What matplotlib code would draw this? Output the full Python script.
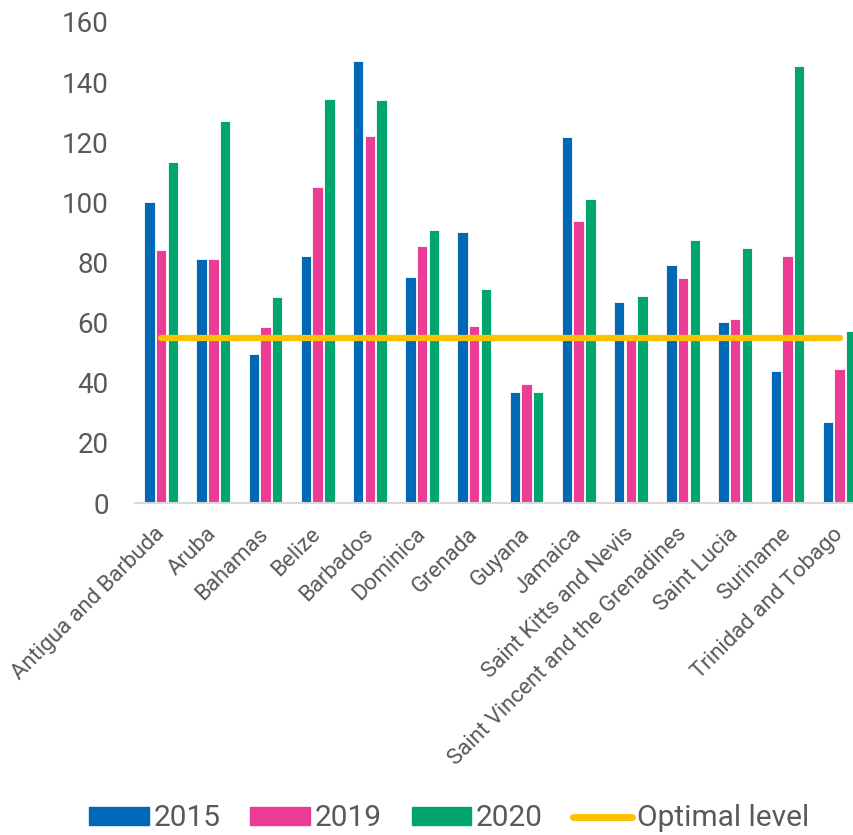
import numpy as np
import matplotlib
matplotlib.use('Agg')
import matplotlib.pyplot as plt
from matplotlib.lines import Line2D
from matplotlib.patches import Patch

countries = ['Antigua and Barbuda', 'Aruba', 'Bahamas', 'Belize', 'Barbados',
             'Dominica', 'Grenada', 'Guyana', 'Jamaica', 'Saint Kitts and Nevis',
             'Saint Vincent and the Grenadines', 'Saint Lucia', 'Suriname',
             'Trinidad and Tobago']
v2015 = [100.2, 81.0, 49.4, 82.3, 146.9, 75.2, 90.0, 37.0, 121.9, 66.7, 79.2, 60.3, 43.9, 26.8]
v2019 = [84.3, 81.0, 58.6, 105.0, 122.1, 85.6, 58.9, 39.7, 93.8, 55.9, 75.0, 61.2, 82.1, 44.7]
v2020 = [113.3, 127.0, 68.6, 134.4, 134.1, 90.7, 71.3, 36.9, 101.2, 68.9, 87.6, 84.9, 145.2, 57.3]
optimal = 55

series = [('2015', v2015, '#0068B5'), ('2019', v2019, '#EC3D96'), ('2020', v2020, '#00A66E')]
line_color = '#FFC000'
text_color = '#595959'

plt.rcParams['font.family'] = ['Roboto', 'DejaVu Sans']

fig = plt.figure(figsize=(8.54, 8.35), dpi=100)
ax = fig.add_axes([0.1581, 0.3976, 0.8556, 0.5761])

x = np.arange(len(countries))
step = 0.224
for i, (name, vals, col) in enumerate(series):
    ax.bar(x + (i - 1) * step, vals, width=0.2, color=col, edgecolor='white', linewidth=0.6)

ax.plot([x[0], x[-1]], [optimal, optimal], color=line_color, lw=4.5, solid_capstyle='round')

ax.set_xlim(-0.5, len(countries) - 0.5)
ax.set_ylim(0, 160)
ax.set_yticks(np.arange(0, 161, 20))
ax.tick_params(axis='y', length=0, pad=19, labelsize=20, labelcolor=text_color)
ax.set_xticks(x)
ax.set_xticklabels(countries, rotation=45, ha='right', va='center', rotation_mode='anchor',
                   fontsize=16, color=text_color)
ax.tick_params(axis='x', length=0, pad=20)
for s in ['top', 'right', 'left']:
    ax.spines[s].set_visible(False)
ax.spines['bottom'].set_color('#D9D9D9')
ax.spines['bottom'].set_linewidth(1.5)

handles = [Patch(color=c, label=n) for n, _, c in series]
handles.append(Line2D([0], [0], color=line_color, lw=5, solid_capstyle='round', label='Optimal level'))
fig.legend(handles=handles, loc='center', bbox_to_anchor=(0.526, 0.02), ncol=4,
           frameon=False, fontsize=21.5, labelcolor=text_color, handlelength=2.0,
           handleheight=0.55, handletextpad=0.15, columnspacing=1.0)

fig.savefig('out.png', dpi=100)
